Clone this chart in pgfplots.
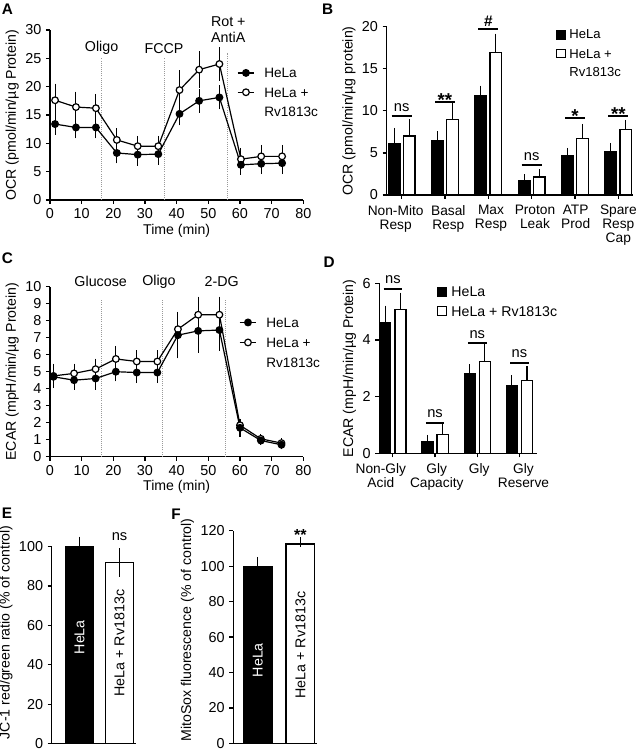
\documentclass[border=0pt]{standalone}
\usepackage{fontspec}
\setmainfont{Liberation Sans}
\usepackage{pgfplots}
\usepackage{pgfplotstable}
\pgfplotsset{compat=1.18}

\pgfplotstableread{
t h he r re
1.6 13.4 1.4 17.6 2.4
8.2 12.8 1.4 16.4 2.2
14.5 12.8 1.4 16.2 2.0
21.1 8.3 1.3 10.6 1.5
27.7 8.0 1.4 9.5 1.3
34.2 8.1 1.4 9.5 1.3
40.9 15.2 1.5 19.4 3.0
47.1 17.5 1.6 23.0 2.7
53.5 18.1 1.6 24.0 2.4
60.3 6.2 1.2 7.2 1.5
66.7 6.4 1.3 7.7 1.5
73.3 6.5 1.4 7.7 1.5
}\dataA

\pgfplotstableread{
t h he r re
1.1 4.7 0.4 4.75 0.55
7.6 4.5 0.4 4.9 0.4
14.4 4.6 0.5 5.15 0.45
20.8 5.0 0.4 5.75 0.6
27.4 4.95 0.45 5.6 0.5
33.9 4.95 0.45 5.6 0.5
40.4 7.15 1.2 7.5 0.85
46.8 7.4 1.1 8.35 0.9
53.5 7.45 1.05 8.35 0.9
60.0 1.7 0.35 1.85 0.15
66.6 0.95 0.1 1.05 0.1
73.1 0.7 0.1 0.8 0.1
}\dataC

\pgfplotstableread{
x h he r re
0 6.1 1.4 7.0 1.5
1 6.5 0.6 9.0 1.5
2 11.8 0.7 16.9 1.8
3 1.7 0.3 2.15 0.4
4 4.65 0.45 6.75 1.2
5 5.2 0.5 7.75 0.7
}\dataB

\pgfplotstableread{
x h he r re
0 4.6 0.47 5.08 0.45
1 0.43 0.08 0.67 0.21
2 2.83 0.18 3.24 0.47
3 2.4 0.21 2.56 0.38
}\dataD

\newcommand{\fs}[1]{\fontsize{#1}{#1}\selectfont}
\newcommand{\st}[2]{\rule[-#2]{0pt}{\dimexpr#1+#2\relax}}

\tikzset{catlab/.style={anchor=north, align=center, inner sep=0pt, yshift=-7.5pt, font=\fontsize{10.3}{10.4}\selectfont}}

\pgfplotsset{
 base/.style={
  scale only axis, anchor=south west, clip=false,
  axis x line*=bottom, axis y line*=left,
  axis line style={black, line width=0.9pt, -},
  every tick/.style={black, line width=0.9pt},
  tick align=outside, major tick length=3pt,
  /pgf/number format/assume math mode=true,
  tick label style={font=\fontsize{10.8}{11}\selectfont},
  label style={font=\fontsize{10.6}{11}\selectfont},
 },
 lp/.style={black, line width=0.9pt, mark=*, mark size=2.5pt,
  error bars/y dir=both, error bars/y explicit,
  error bars/error bar style={line width=0.8pt, black},
  error bars/error mark options={mark size=2.2pt, line width=0.8pt, black}},
 vline/.style={gray!80, densely dotted, line width=0.6pt, forget plot},
 sig/.style={black, line width=1.5pt, forget plot},
 barH/.style={ybar, fill=black, draw=black, line width=0.8pt, forget plot, bar shift=0pt,
  error bars/y dir=plus, error bars/y explicit,
  error bars/error bar style={line width=0.9pt, black},
  error bars/error mark options={mark size=#1, line width=0.9pt, black}},
 barH/.default=3.1pt,
 barR/.style={ybar, fill=white, draw=black, line width=1pt, forget plot, bar shift=0pt,
  error bars/y dir=plus, error bars/y explicit,
  error bars/error bar style={line width=0.9pt, black},
  error bars/error mark options={mark size=#1, line width=0.9pt, black}},
 barR/.default=3.1pt,
 linelegend/.style={legend image code/.code={\draw[mark repeat=2, mark phase=2, ##1] plot coordinates {(0pt,0pt) (6.3pt,0pt) (12.6pt,0pt)};}},
 leg/.style={legend style={draw=none, fill=none, inner sep=0pt, row sep=0pt, column sep=#1,
   cells={anchor=west, inner sep=0pt}}},
 leg/.default=5pt,
}

\begin{document}
\begin{tikzpicture}
\useasboundingbox (0,0) rectangle (480pt,562.5pt);

% panel letters
\node[anchor=north west, inner sep=0pt, font=\bfseries\fs{11.5}] at (1.3pt,560pt) {A};
\node[anchor=north west, inner sep=0pt, font=\bfseries\fs{11.5}] at (241.3pt,560pt) {B};
\node[anchor=north west, inner sep=0pt, font=\bfseries\fs{11.5}] at (1.3pt,372.9pt) {C};
\node[anchor=north west, inner sep=0pt, font=\bfseries\fs{11.5}] at (242.5pt,370pt) {D};
\node[anchor=north west, inner sep=0pt, font=\bfseries\fs{11.5}] at (1.3pt,181.5pt) {E};
\node[anchor=north west, inner sep=0pt, font=\bfseries\fs{11.5}] at (128.3pt,180.7pt) {F};

% ---------------- A
\begin{axis}[base, at={(37.5pt,412.5pt)}, width=190pt, height=127.5pt,
 xmin=0, xmax=80, ymin=0, ymax=30, xtick={0,10,...,80}, ytick={0,5,...,30},
 xlabel={Time (min)}, ylabel={OCR (pmol/min/µg Protein)},
 xlabel style={yshift=3pt}, ylabel style={yshift=-2pt},
 linelegend, leg,
 legend style={at={(0.737,0.806)}, anchor=north west, font=\fontsize{10.2}{11}\selectfont},
]
\addplot[vline] coordinates {(16.3,0) (16.3,25)};
\addplot[vline] coordinates {(36.0,0) (36.0,25)};
\addplot[vline] coordinates {(56.1,0) (56.1,26)};
\addplot[forget plot, lp, mark options={fill=white, solid}] table[x=t, y=r, y error=re] {\dataA};
\addplot[forget plot, lp, mark options={fill=black, solid}] table[x=t, y=h, y error=he] {\dataA};
\addlegendimage{black, line width=0.9pt, mark=*, mark size=2.5pt, mark options={fill=black, solid}}
\addlegendentry{\st{9pt}{3pt}HeLa}
\addlegendimage{black, line width=0.9pt, mark=*, mark size=2.5pt, mark options={fill=white, solid}}
\addlegendentry{\st{9pt}{3pt}HeLa +}
\addlegendimage{empty legend}
\addlegendentry{\st{9pt}{3pt}Rv1813c}
\node[font=\fs{10.7}] at (axis cs:16.3,26.8) {Oligo};
\node[font=\fs{10.7}] at (axis cs:36.0,26.8) {FCCP};
\node[font=\fontsize{10.7}{12}\selectfont, align=center] at (axis cs:56.3,30) {Rot +\\AntiA};
\end{axis}

% ---------------- B
\begin{axis}[base, at={(290pt,416.25pt)}, width=184.7pt, height=126.2pt,
 xmin=-0.346, xmax=5.337, ymin=0, ymax=20, ytick={0,5,...,20}, xtick={0,...,5},
 xticklabels={}, 
 ylabel={OCR (pmol/min/µg protein)}, ylabel style={yshift=-2pt},
 leg=0.5pt,
 legend style={at={(0.687,1.008)}, anchor=north west, font=\fontsize{9.8}{10.6}\selectfont},
]
\addplot[barH, bar width=8.8pt] table[x expr=\thisrow{x}-0.172, y=h, y error=he] {\dataB};
\addplot[barR, bar width=8.8pt] table[x expr=\thisrow{x}+0.172, y=r, y error=re] {\dataB};
\addlegendimage{legend image code/.code={\draw[fill=black, draw=black, line width=0.8pt] (0pt,-3.3pt) rectangle (6.6pt,3.3pt);}}
\addlegendentry{\st{8pt}{3pt}HeLa}
\addlegendimage{legend image code/.code={\draw[fill=white, draw=black, line width=0.8pt] (0pt,-3.3pt) rectangle (6.6pt,3.3pt);}}
\addlegendentry{\st{9.3pt}{1pt}HeLa +}
\addlegendimage{empty legend}
\addlegendentry{\st{7.5pt}{2pt}Rv1813c}
\addplot[sig] coordinates {(-0.23,9.4) (0.23,9.4)};
\addplot[sig] coordinates {(0.77,11.1) (1.23,11.1)};
\addplot[sig] coordinates {(1.77,19.7) (2.23,19.7)};
\addplot[sig] coordinates {(2.77,3.55) (3.23,3.55)};
\addplot[sig] coordinates {(3.77,9.2) (4.23,9.2)};
\addplot[sig] coordinates {(4.77,9.4) (5.23,9.4)};
\node[anchor=base, yshift=3.2pt, font=\fs{11}] at (axis cs:0,9.4) {ns};
\node[anchor=base, yshift=-3.5pt, font=\bfseries\fs{14}] at (axis cs:1,11.1) {**};
\node[anchor=base, yshift=2.3pt, font=\bfseries\fs{11.5}] at (axis cs:2,19.7) {\#};
\node[anchor=base, yshift=3.2pt, font=\fs{11}] at (axis cs:3,3.55) {ns};
\node[anchor=base, yshift=-3.5pt, font=\bfseries\fs{14}] at (axis cs:4,9.2) {*};
\node[anchor=base, yshift=-3.5pt, font=\bfseries\fs{14}] at (axis cs:5,9.4) {**};
\node[catlab, xshift=-4.5pt] at (axis cs:0,0) {Non-Mito\\Resp};
\node[catlab, xshift=2.5pt] at (axis cs:1,0) {Basal\\Resp};
\node[catlab, xshift=2pt] at (axis cs:2,0) {Max\\Resp};
\node[catlab, xshift=2.5pt] at (axis cs:3,0) {Proton\\Leak};
\node[catlab, xshift=0.5pt] at (axis cs:4,0) {ATP\\Prod};
\node[catlab] at (axis cs:5,0) {Spare\\Resp\\Cap};
\end{axis}

% ---------------- C
\begin{axis}[base, at={(37.5pt,219.98pt)}, width=190pt, height=127.5pt,
 xmin=0, xmax=80, ymin=0, ymax=10, xtick={0,10,...,80}, ytick={0,1,...,10},
 xlabel={Time (min)}, ylabel={ECAR (mpH/min/µg Protein)},
 xlabel style={yshift=3pt}, ylabel style={yshift=-2pt},
 linelegend, leg,
 legend style={at={(0.745,0.85)}, anchor=north west, font=\fontsize{10.2}{11}\selectfont},
]
\addplot[vline] coordinates {(16.1,0) (16.1,9.2)};
\addplot[vline] coordinates {(35.5,0) (35.5,9.2)};
\addplot[vline] coordinates {(55.5,0) (55.5,9.2)};
\addplot[forget plot, lp, mark options={fill=white, solid}] table[x=t, y=r, y error=re] {\dataC};
\addplot[forget plot, lp, mark options={fill=black, solid}] table[x=t, y=h, y error=he] {\dataC};
\addlegendimage{black, line width=0.9pt, mark=*, mark size=2.5pt, mark options={fill=black, solid}}
\addlegendentry{\st{9.5pt}{3.2pt}HeLa}
\addlegendimage{black, line width=0.9pt, mark=*, mark size=2.5pt, mark options={fill=white, solid}}
\addlegendentry{\st{9.5pt}{3.2pt}HeLa +}
\addlegendimage{empty legend}
\addlegendentry{\st{9.5pt}{3.2pt}Rv1813c}
\node[font=\fs{10.7}] at (axis cs:16.0,10.3) {Glucose};
\node[font=\fs{10.7}] at (axis cs:34.4,10.3) {Oligo};
\node[font=\fs{10.7}] at (axis cs:54.2,10.3) {2-DG};
\end{axis}

% ---------------- D
\begin{axis}[base, at={(284.5pt,222.5pt)}, width=118.5pt, height=127.5pt,
 xmin=-0.32, xmax=3.424, ymin=0, ymax=6, ytick={0,2,4,6}, xtick={0,...,3},
 xticklabels={},
 ylabel={ECAR (mpH/min/µg Protein)}, ylabel style={yshift=-2pt},
 leg=1.3pt,
 legend style={at={(0.363,1.001)}, anchor=north west, font=\fontsize{10.6}{11}\selectfont},
]
\addplot[barH=3pt, bar width=8.3pt] table[x expr=\thisrow{x}-0.18, y=h, y error=he] {\dataD};
\addplot[barR=3pt, bar width=8.3pt] table[x expr=\thisrow{x}+0.18, y=r, y error=re] {\dataD};
\addlegendimage{legend image code/.code={\draw[fill=black, draw=black, line width=0.8pt] (0pt,-3.4pt) rectangle (6.8pt,3.4pt);}}
\addlegendentry{\st{8pt}{3pt}HeLa}
\addlegendimage{legend image code/.code={\draw[fill=white, draw=black, line width=0.8pt] (0pt,-3.4pt) rectangle (6.8pt,3.4pt);}}
\addlegendentry{\st{9pt}{3pt}HeLa + Rv1813c}
\addplot[sig] coordinates {(-0.22,5.8) (0.22,5.8)};
\addplot[sig] coordinates {(0.78,1.06) (1.22,1.06)};
\addplot[sig] coordinates {(1.78,3.88) (2.22,3.88)};
\addplot[sig] coordinates {(2.78,3.18) (3.22,3.18)};
\node[anchor=base, yshift=4pt, font=\fs{11}] at (axis cs:0,5.8) {ns};
\node[anchor=base, yshift=4pt, font=\fs{11}] at (axis cs:1,1.06) {ns};
\node[anchor=base, yshift=4pt, font=\fs{11}] at (axis cs:2,3.88) {ns};
\node[anchor=base, yshift=4pt, font=\fs{11}] at (axis cs:3,3.18) {ns};
\node[catlab, xshift=-9pt] at (axis cs:0,0) {Non-Gly\\Acid};
\node[catlab, xshift=1.3pt] at (axis cs:1,0) {Gly\\Capacity};
\node[catlab, xshift=1.5pt] at (axis cs:2,0) {Gly};
\node[catlab, xshift=3pt] at (axis cs:3,0) {Gly\\Reserve};
\end{axis}

% ---------------- E
\begin{axis}[base, at={(38.8pt,4.9pt)}, width=63.2pt, height=147.6pt,
 xmin=-0.695, xmax=1.41, ymin=0, ymax=100, ytick={0,20,...,100}, xtick=\empty,
 ylabel={JC-1 red/green ratio (\% of control)},
 ylabel style={at={(ticklabel cs:0.565)}, yshift=-2pt},
]
\addplot[barH=4.2pt, bar width=21pt] coordinates {(0,100) +- (0,2.2)};
\addplot[barR=4.2pt, bar width=21pt, error bars/y dir=both] coordinates {(1,92) +- (0,4.4)};
\node[rotate=90, text=white, font=\fs{10.7}] at (axis cs:0,54) {HeLa};
\node[rotate=90, font=\fs{10.7}] at (axis cs:1,51) {HeLa + Rv1813c};
\node[anchor=base, font=\fs{11}] at (axis cs:1,103) {ns};
\end{axis}

% ---------------- F
\begin{axis}[base, at={(175pt,4.9pt)}, width=62.5pt, height=159.6pt,
 xmin=-0.573, xmax=1.383, ymin=0, ymax=120, ytick={0,20,...,120}, xtick=\empty,
 ylabel={MitoSox fluorescence (\% of control)},
 ylabel style={at={(ticklabel cs:0.533)}, yshift=-2pt},
]
\addplot[barH=3.8pt, bar width=21.5pt] coordinates {(0,100) +- (0,2.3)};
\addplot[barR=3.8pt, bar width=21.5pt] coordinates {(1,112.5) +- (0,1.0)};
\node[rotate=90, text=white, font=\fs{10.7}] at (axis cs:0,47) {HeLa};
\node[rotate=90, font=\fs{10.7}] at (axis cs:1,55.5) {HeLa + Rv1813c};
\node[anchor=base, font=\bfseries\fs{12}] at (axis cs:1,114.5) {**};
\end{axis}
\end{tikzpicture}
\end{document}
